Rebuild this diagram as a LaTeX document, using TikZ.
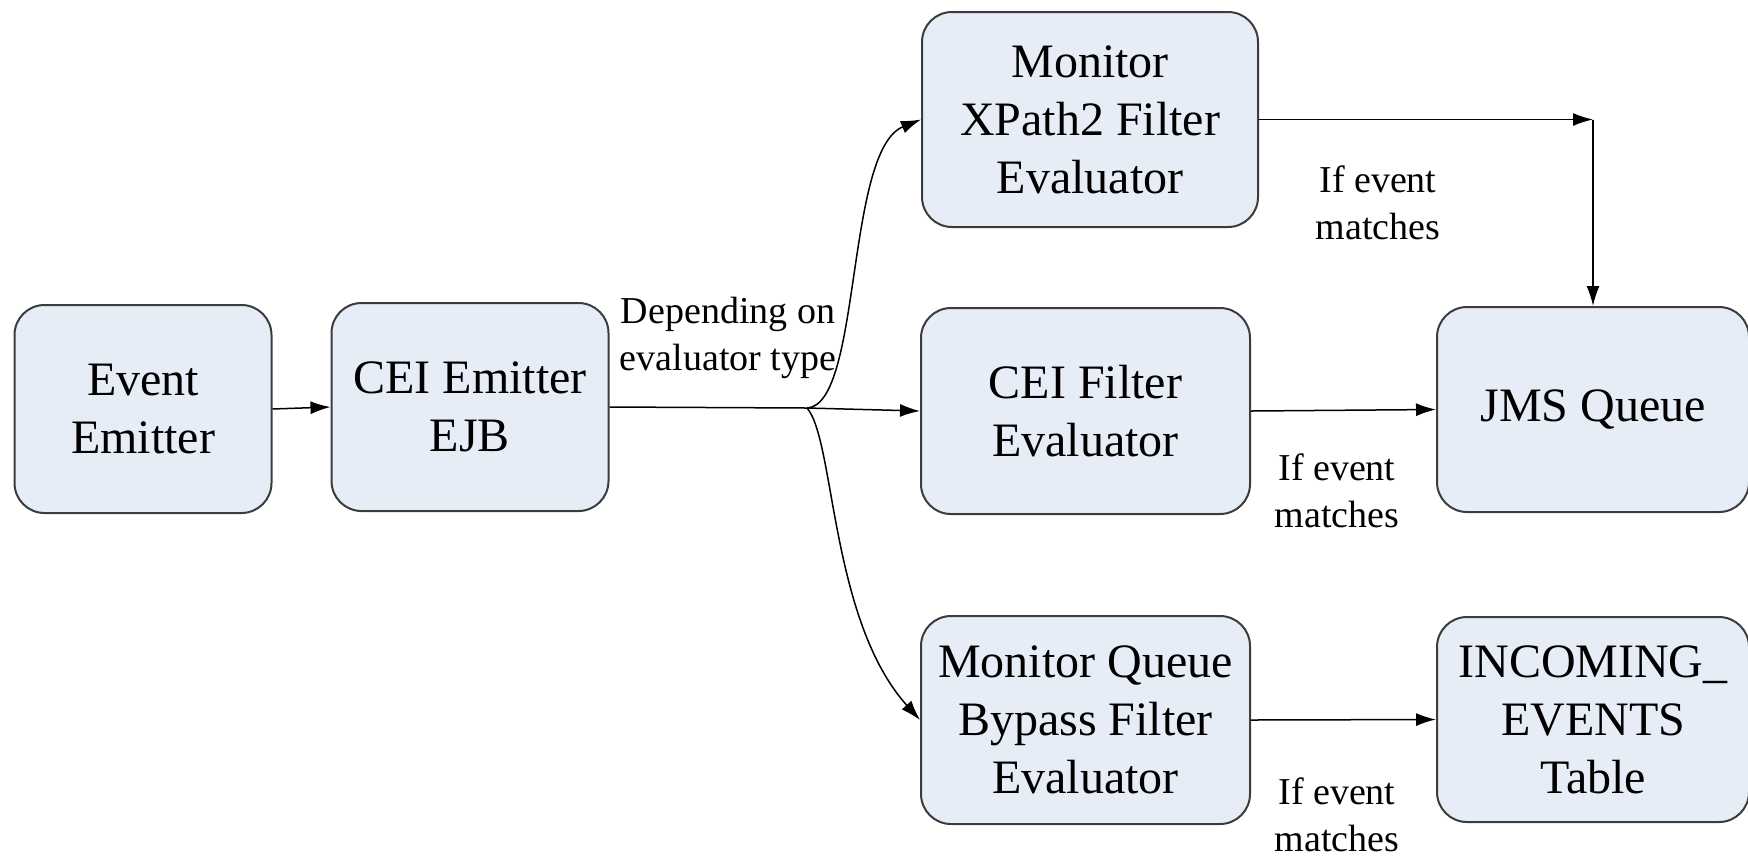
\documentclass[tikz,border=0pt]{standalone}
\usepackage{fontspec}
\setmainfont{Liberation Serif}
\usepackage{tikz}
\usetikzlibrary{arrows.meta, positioning}
\definecolor{boxfill}{RGB}{231,237,247}
\definecolor{boxline}{RGB}{60,60,60}

\begin{document}
\begin{tikzpicture}[
    x=0.5pt, y=-0.5pt,
    box/.style={rectangle, rounded corners=15pt, draw=boxline, line width=1pt, fill=boxfill,
        align=center, inner sep=0pt, font=\fontsize{24}{29}\selectfont},
    lbl/.style={align=center, inner sep=0pt, font=\fontsize{19}{23.5}\selectfont},
    link/.style={draw, line width=0.75pt, ->},
    >={Latex[length=10pt,width=6.5pt]}
]
    \useasboundingbox (0,0) rectangle (1748,858);

    % boxes
    \node[box, minimum width=128.5pt, minimum height=104pt] (emitter) at (143,409) {Event\\Emitter};
    \node[box, minimum width=138.5pt, minimum height=104pt] (ejb) at (470,407) {CEI Emitter\\EJB};
    \node[box, minimum width=168pt, minimum height=107.5pt] (xpath) at (1090,119.5) {Monitor\\XPath2 Filter\\Evaluator};
    \node[box, minimum width=164.5pt, minimum height=103pt] (ceif) at (1085.5,411) {CEI Filter\\Evaluator};
    \node[box, minimum width=164.5pt, minimum height=104pt] (bypass) at (1085.5,720) {Monitor Queue\\Bypass Filter\\Evaluator};
    \node[box, minimum width=156pt, minimum height=102.5pt] (jms) at (1593,409.5) {JMS Queue};
    \node[box, minimum width=156pt, minimum height=102.5pt] (table) at (1593,719.5) {INCOMING\_\\EVENTS\\Table};

    % labels
    \node[lbl] (depending) at (728,338) {Depending on\\evaluator type};
    \node[lbl] (matchx) at (1378,203) {If event\\matches};
    \node[lbl] (matchc) at (1337,491) {If event\\matches};
    \node[lbl] (matchb) at (1337,815) {If event\\matches};

    \coordinate (split) at (807,408);
    \coordinate (turn) at (jms.north |- xpath.east);

    % connectors
    \path[link] (emitter.east) -- (ejb.west);
    \draw[line width=0.75pt] (ejb.east) -- (split);
    \path[link] (split) -- (ceif.west);
    \path[link] (split) .. controls (862,405) and (845,150) .. (xpath.west);
    \path[link] (split) .. controls (835,440) and (830,620) .. (bypass.west);
    \path[link] (xpath.east) -- (turn);
    \path[link] (turn) -- (jms.north);
    \path[link] (ceif.east) -- (jms.west);
    \path[link] (bypass.east) -- (table.west);
\end{tikzpicture}
\end{document}
